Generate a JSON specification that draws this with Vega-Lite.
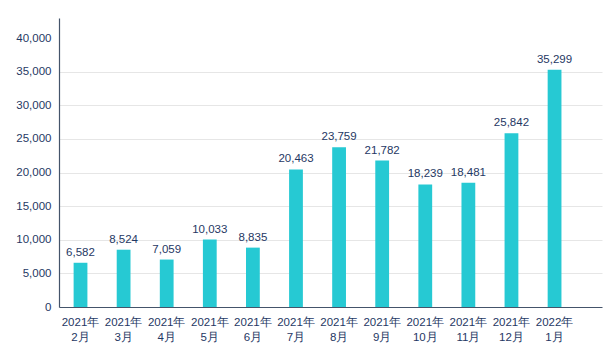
{
  "$schema": "https://vega.github.io/schema/vega-lite/v6.json",
  "autosize": "none",
  "padding": {"left": 59, "top": 18, "right": 11, "bottom": 54},
  "width": 543,
  "height": 289,
  "background": "white",
  "config": {"view": {"stroke": null}, "font": "Liberation Sans"},
  "data": {"values": [
    {"month": "2021年|2月", "value": 6582},
    {"month": "2021年|3月", "value": 8524},
    {"month": "2021年|4月", "value": 7059},
    {"month": "2021年|5月", "value": 10033},
    {"month": "2021年|6月", "value": 8835},
    {"month": "2021年|7月", "value": 20463},
    {"month": "2021年|8月", "value": 23759},
    {"month": "2021年|9月", "value": 21782},
    {"month": "2021年|10月", "value": 18239},
    {"month": "2021年|11月", "value": 18481},
    {"month": "2021年|12月", "value": 25842},
    {"month": "2022年|1月", "value": 35299}
  ]},
  "encoding": {
    "x": {"field": "month", "type": "nominal", "sort": null,
      "scale": {"paddingInner": 0.68, "paddingOuter": 0.64, "align": 0.265},
      "axis": {"title": null, "labelAngle": 0, "labelExpr": "split(datum.value, '|')",
        "labelFont": "Liberation Sans", "labelFontSize": 11.5, "labelColor": "#1F3864",
        "labelLineHeight": 15, "labelPadding": 9, "ticks": false,
        "domainColor": "#44546A", "domainWidth": 1.2}},
    "y": {"field": "value", "type": "quantitative",
      "scale": {"domain": [0, 43000], "nice": false},
      "axis": {"title": null, "values": [0,5000,10000,15000,20000,25000,30000,35000,40000],
        "labelExpr": "format(datum.value, ',')", "labelFont": "Liberation Sans", "labelFontSize": 11.5, "labelColor": "#1F3864",
        "labelPadding": 8, "ticks": false, "domainColor": "#44546A", "domainWidth": 1.2,
        "gridColor": "#E6E6E6", "gridWidth": 1,
        "gridOpacity": {"condition": {"test": "datum.value === 40000 || datum.value === 0", "value": 0}, "value": 1}}}
  },
  "layer": [
    {"mark": {"type": "bar", "color": "#26C9D3"}},
    {"mark": {"type": "text", "dy": -10, "font": "Liberation Sans", "fontSize": 11.5, "color": "#1F3864"},
      "encoding": {"text": {"field": "value", "type": "quantitative", "format": ","}}}
  ]
}
